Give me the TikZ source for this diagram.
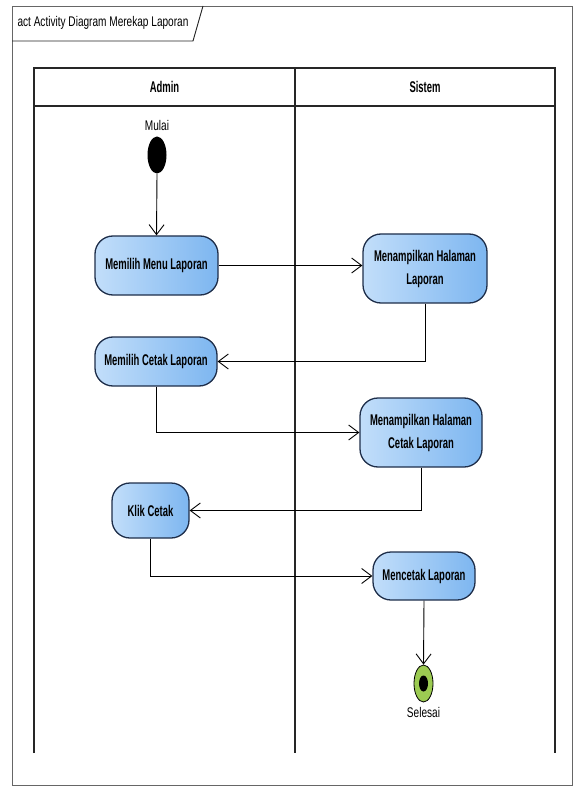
\documentclass[tikz,border=0pt]{standalone}
\usepackage{fontspec}
\setmainfont[FakeStretch=0.72]{Liberation Sans}
\newfontfamily\actbold[FakeStretch=0.61]{Liberation Sans Bold}
\usepackage{tikz}
\usetikzlibrary{shapes.geometric, positioning, arrows.meta}

\definecolor{actleft}{HTML}{C2DEFA}
\definecolor{actright}{HTML}{7DB6F0}
\definecolor{actborder}{HTML}{1E2E4A}
\definecolor{endgreen}{HTML}{9CCB52}

\tikzset{
  activity/.style={draw=actborder, line width=1.3pt, rounded corners=18pt,
    left color=actleft, right color=actright, align=center,
    font=\actbold\fontsize{15.5}{23}\selectfont, inner sep=4pt},
  flow/.style={-{Straight Barb[length=10pt,width=15pt]}, line width=0.9pt},
  lane/.style={line width=1.1pt, draw=black!85},
  lbl/.style={font=\fontsize{14}{16}\selectfont}
}

\begin{document}
\begin{tikzpicture}[x=1pt, y=-1pt]
    \useasboundingbox (0,0) rectangle (573,791);

    % Frame
    \draw [black!60, line width=0.8pt] (12,6) rectangle (572,785);%
    \draw [black!85, line width=0.9pt] (12,41) -- (193,41) -- (203,6);%
    \node [lbl, anchor=west] (Title) at (14,23) {act Activity Diagram Merekap Laporan};%

    % Swimlanes
    \draw [lane] (34,753) -- (34,68) -- (555,68) -- (555,753);%
    \draw [lane] (34,106) -- (555,106);%
    \draw [lane] (295,68) -- (295,753);%
    \node [font=\actbold\fontsize{15.5}{18}\selectfont] (Admin) at (164.5,87) {Admin};%
    \node [font=\actbold\fontsize{15.5}{18}\selectfont] (Sistem) at (425,87) {Sistem};%

    % Start
    \node [ellipse, fill=black, minimum width=19pt, minimum height=37pt,
    inner sep=0pt] (Start) at (157,155) {};%
    \node [lbl, above=2pt of Start] (Mulai) {Mulai};%

    % Activities
    \node [activity, minimum width=123pt, minimum height=59pt] (MenuLap) at
    (156.5,265.5) {Memilih Menu Laporan};%
    \node [activity, minimum width=124pt, minimum height=69pt] (TampilLap) at
    (425,268.5) {Menampilkan Halaman\\Laporan};%
    \node [activity, minimum width=122pt, minimum height=49pt] (CetakLap) at
    (156,361.5) {Memilih Cetak Laporan};%
    \node [activity, minimum width=122pt, minimum height=69pt] (TampilCetak) at
    (421,432.5) {Menampilkan Halaman\\Cetak Laporan};%
    \node [activity, minimum width=77pt, minimum height=55pt] (Klik) at
    (150.5,510.5) {Klik Cetak};%
    \node [activity, minimum width=102pt, minimum height=48pt] (Mencetak) at
    (424,576) {Mencetak Laporan};%

    % End
    \node [ellipse, draw=black, line width=0.8pt, fill=endgreen,
    minimum width=19pt, minimum height=37pt, inner sep=0pt] (End) at
    (423.5,683.5) {};%
    \node [ellipse, fill=black, minimum width=9pt, minimum height=16pt,
    inner sep=0pt] (EndDot) at (End.center) {};%
    \node [lbl, below=1pt of End] (Selesai) {Selesai};%

    % arrows
    \draw [flow] (Start.south) -- (MenuLap.north);%
    \draw [flow] (MenuLap.east) -- (TampilLap.west |- MenuLap.east);%
    \draw [flow] (TampilLap.south) |- (CetakLap.east);%
    \draw [flow] (CetakLap.south) |- (TampilCetak.west);%
    \draw [flow] (TampilCetak.south) |- (Klik.east);%
    \draw [flow] (Klik.south) |- (Mencetak.west);%
    \draw [flow] (Mencetak.south) -- (End.north);%
  \end{tikzpicture}
\end{document}
